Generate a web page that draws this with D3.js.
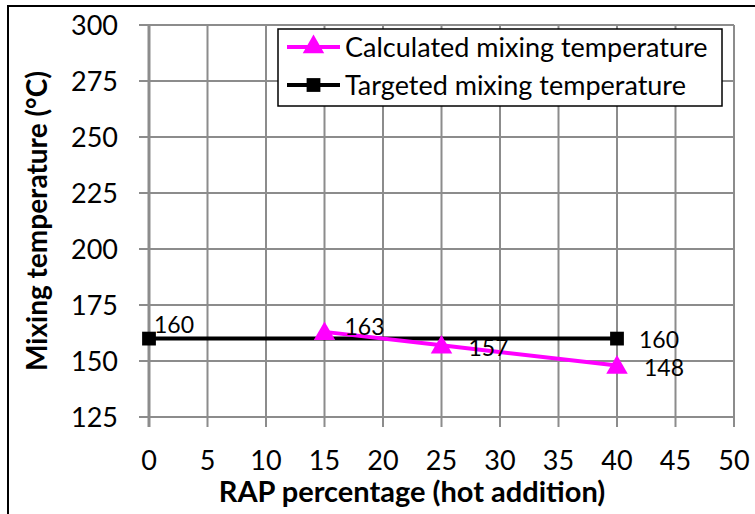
<!DOCTYPE html>
<html><head><meta charset="utf-8">
<script src="https://cdn.jsdelivr.net/npm/d3@7"></script>
<style>body{margin:0;background:#fff}svg{display:block}text{font-family:Lato,"Open Sans",sans-serif}</style>
</head><body><svg id="c" width="755" height="514"></svg>
<script>
const xTicks = [0,5,10,15,20,25,30,35,40,45,50];
const yTicks = [125,150,175,200,225,250,275,300];
const calcX = [15,25,40];
const calcY = [163,157,148];
const targX = [0,40];
const targY = [160,160];
const seriesNames = ["Calculated mixing temperature","Targeted mixing temperature"];
const xTitle = "RAP percentage (hot addition)";
const yTitle = "Mixing temperature (°C)";

const svg = d3.select("#c");
const L=149,R=734,T=25,B=417;
const x = d3.scaleLinear().domain([0,50]).range([L,R]);
const y = d3.scaleLinear().domain([125,300]).range([B,T]);
const grid="#8c8c8c";

// outer border
svg.append("path").attr("d","M8,520 V6 H760").attr("fill","none").attr("stroke","#000").attr("stroke-width",2);

// gridlines
svg.append("g").selectAll("line").data(yTicks).join("line")
  .attr("x1",L-10).attr("x2",R).attr("y1",d=>y(d)).attr("y2",d=>y(d))
  .attr("stroke",grid).attr("stroke-width",2);
svg.append("g").selectAll("line").data(xTicks).join("line")
  .attr("x1",d=>x(d)).attr("x2",d=>x(d)).attr("y1",T).attr("y2",B+10)
  .attr("stroke",grid).attr("stroke-width",d=>d===0?3:2);

// tick labels
svg.append("g").selectAll("text").data(yTicks).join("text")
  .attr("x",L-31).attr("y",d=>y(d)).attr("dy","0.36em").attr("text-anchor","end")
  .attr("font-size",27).text(d=>d);
svg.append("g").selectAll("text").data(xTicks).join("text")
  .attr("x",d=>x(d)).attr("y",460).attr("dy","0.36em").attr("text-anchor","middle")
  .attr("font-size",27).text(d=>d);

// axis titles
svg.append("text").attr("x",412).attr("y",492).attr("dy","0.36em").attr("text-anchor","middle")
  .attr("font-size",29).attr("font-weight","bold").text(xTitle);
svg.append("text").attr("transform",`translate(37,${(T+B)/2}) rotate(-90)`).attr("dy","0.36em")
  .attr("text-anchor","middle").attr("font-size",28).attr("font-weight","bold").text(yTitle);

const line = d3.line().x(d=>x(d[0])).y(d=>y(d[1]));
const calc = calcX.map((v,i)=>[v,calcY[i]]);
const targ = targX.map((v,i)=>[v,targY[i]]);
const tri = d3.symbol().type(d3.symbolTriangle).size(200);
const sq = d3.symbol().type(d3.symbolSquare).size(190);

svg.append("path").attr("d",line(targ)).attr("fill","none").attr("stroke","#000").attr("stroke-width",4);
svg.append("g").selectAll("path").data(targ).join("path").attr("d",sq)
  .attr("transform",d=>`translate(${x(d[0])},${y(d[1])})`).attr("fill","#000");
svg.append("path").attr("d",line(calc)).attr("fill","none").attr("stroke","#ff00ff").attr("stroke-width",4);
svg.append("g").selectAll("path").data(calc).join("path").attr("d",tri)
  .attr("transform",d=>`translate(${x(d[0])},${y(d[1])+2})`).attr("fill","#ff00ff");

// data labels
const lab = svg.append("g").attr("font-size",23);
lab.append("text").attr("x",x(targ[0][0])+5).attr("y",y(targ[0][1])-14).attr("dy","0.36em").text(targY[0]);
lab.append("text").attr("x",x(targ[1][0])+22).attr("y",y(targ[1][1])+1).attr("dy","0.36em").text(targY[1]);
const off=[[20,-5],[27,2],[27,2]];
calc.forEach((d,i)=>lab.append("text").attr("x",x(d[0])+off[i][0]).attr("y",y(d[1])+off[i][1]).attr("dy","0.36em").text(d[1]));

// legend
const lg = svg.append("g");
lg.append("rect").attr("x",278).attr("y",29).attr("width",444).attr("height",77).attr("fill","#fff").attr("stroke","#000").attr("stroke-width",1.5);
const rows=[{n:seriesNames[0],c:"#ff00ff",s:tri,yy:47},{n:seriesNames[1],c:"#000",s:sq,yy:85}];
rows.forEach(r=>{
  lg.append("line").attr("x1",287).attr("x2",340).attr("y1",r.yy).attr("y2",r.yy).attr("stroke",r.c).attr("stroke-width",4);
  lg.append("path").attr("d",r.s).attr("transform",`translate(313.5,${r.yy})`).attr("fill",r.c);
  lg.append("text").attr("x",345).attr("y",r.yy).attr("dy","0.36em").attr("font-size",27).text(r.n);
});
</script></body></html>
